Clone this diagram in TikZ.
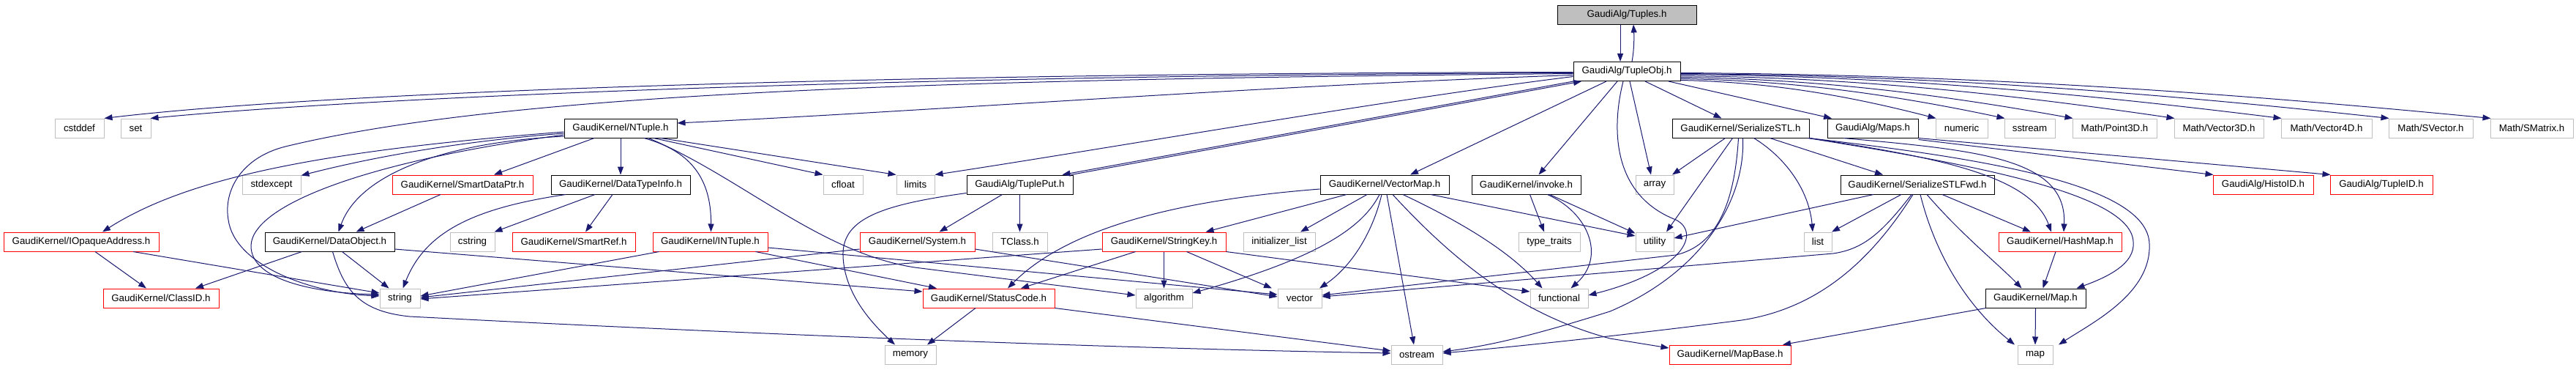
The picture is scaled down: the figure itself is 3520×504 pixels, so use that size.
\documentclass[tikz,border=0pt]{standalone}
\usepackage{fontspec}
\setmainfont{Liberation Sans}
\usetikzlibrary{arrows.meta}
\definecolor{edgeblue}{HTML}{191970}
\definecolor{boxgray}{HTML}{BFBFBF}
\definecolor{boxred}{HTML}{FF0000}
\newcommand{\dfont}{\fontsize{13.3pt}{16pt}\selectfont}
\begin{document}
\begin{tikzpicture}[x=1pt,y=-1pt,
  nbox/.style={rectangle, draw=black, line width=1pt, minimum height=26pt, inner sep=0pt, font=\dfont, text=black},
  bk/.style={nbox, minimum width=#1},
  rd/.style={nbox, draw=boxred, minimum width=#1},
  gy/.style={nbox, draw=boxgray, minimum width=#1},
  rt/.style={nbox, fill=boxgray, minimum width=#1},
  dep/.style={draw=edgeblue, line width=1pt, -{Triangle[length=11pt,width=8pt]}}]
\fill[white] (0,0) rectangle (3520,504);
\useasboundingbox (0,0) rectangle (3520,504);
% nodes
\node[rt=190pt] (tuples) at (2223,20) {GaudiAlg/Tuples.h};
\node[bk=146pt] (tupleobj) at (2223,97.5) {GaudiAlg/TupleObj.h};
% row 1
\node[gy=67pt] (cstddef) at (108.5,175) {cstddef};
\node[gy=41pt] (set) at (185.5,175) {set};
\node[bk=154pt] (ntuple) at (848,175) {GaudiKernel/NTuple.h};
\node[bk=187pt] (serstl) at (2378.5,175) {GaudiKernel/SerializeSTL.h};
\node[bk=124pt] (maps) at (2559,175) {GaudiAlg/Maps.h};
\node[gy=71pt] (numeric) at (2680.5,175) {numeric};
\node[gy=69pt] (sstream) at (2773.5,175) {sstream};
\node[gy=115pt] (point3d) at (2889.5,175) {Math/Point3D.h};
\node[gy=122pt] (vector3d) at (3032,175) {Math/Vector3D.h};
\node[gy=124pt] (vector4d) at (3179,175) {Math/Vector4D.h};
\node[gy=115pt] (svector) at (3321.5,175) {Math/SVector.h};
\node[gy=113pt] (smatrix) at (3459.5,175) {Math/SMatrix.h};
% row 2
\node[gy=80pt] (stdexcept) at (371,252) {stdexcept};
\node[rd=192pt] (smartdataptr) at (632,252) {GaudiKernel/SmartDataPtr.h};
\node[bk=190pt] (datatypeinfo) at (848,252) {GaudiKernel/DataTypeInfo.h};
\node[gy=54pt] (cfloat) at (1152,252) {cfloat};
\node[gy=52pt] (limits) at (1251,252) {limits};
\node[bk=145pt] (tupleput) at (1393.5,252) {GaudiAlg/TuplePut.h};
\node[bk=176pt] (vectormap) at (1892,252) {GaudiKernel/VectorMap.h};
\node[bk=149pt] (invoke) at (2085.5,252) {GaudiKernel/invoke.h};
\node[gy=52pt] (array) at (2261,252) {array};
\node[bk=210pt] (serstlfwd) at (2620,252) {GaudiKernel/SerializeSTLFwd.h};
\node[rd=137pt] (histoid) at (3092.5,252) {GaudiAlg/HistoID.h};
\node[rd=140pt] (tupleid) at (3254,252) {GaudiAlg/TupleID.h};
% row 3
\node[rd=212pt] (iopaque) at (111,330) {GaudiKernel/IOpaqueAddress.h};
\node[bk=177pt] (dataobject) at (450.5,330) {GaudiKernel/DataObject.h};
\node[gy=61pt] (cstring) at (645.5,330) {cstring};
\node[rd=168pt] (smartref) at (784,330) {GaudiKernel/SmartRef.h};
\node[rd=157pt] (intuple) at (970.5,330) {GaudiKernel/INTuple.h};
\node[rd=157pt] (system) at (1253.5,330) {GaudiKernel/System.h};
\node[gy=75pt] (tclass) at (1393.5,330) {TClass.h};
\node[rd=169pt] (stringkey) at (1590.5,330) {GaudiKernel/StringKey.h};
\node[gy=98pt] (initlist) at (1748,330) {initializer\_list};
\node[gy=84pt] (typetraits) at (2117,330) {type\_traits};
\node[gy=52pt] (utility) at (2261,330) {utility};
\node[gy=38pt] (list) at (2484,330) {list};
\node[rd=168pt] (hashmap) at (2815,330) {GaudiKernel/HashMap.h};
% row 4
\node[rd=158pt] (classid) at (220,407) {GaudiKernel/ClassID.h};
\node[gy=55pt] (string) at (546.5,407) {string};
\node[rd=180pt] (statuscode) at (1351,407) {GaudiKernel/StatusCode.h};
\node[gy=77pt] (algorithm) at (1590.5,407) {algorithm};
\node[gy=60pt] (vector) at (1776,407) {vector};
\node[gy=79pt] (functional) at (2130.5,407) {functional};
\node[bk=137pt] (mapH) at (2781.5,407) {GaudiKernel/Map.h};
% row 5
\node[gy=70pt] (memory) at (1244,484) {memory};
\node[gy=70pt] (ostream) at (1936,484) {ostream};
\node[rd=166pt] (mapbase) at (2364,484) {GaudiKernel/MapBase.h};
\node[gy=48pt] (map) at (2781,484) {map};
% ---------- edges ----------
\draw[dep] ([xshift=-9pt]tuples.south) -- ([xshift=-9pt]tupleobj.north);
\draw[dep] ([xshift=7pt]tupleobj.north) .. controls (2233,68) and (2233,50) .. ([xshift=9pt]tuples.south);
% TupleObj left
\draw[dep] ([yshift=-1pt]tupleobj.west) .. controls (1200,100) and (450,125) .. (cstddef.north east);
\draw[dep] ([yshift=-2pt]tupleobj.west) .. controls (1200,103) and (500,133) .. ([xshift=-1pt]set.north east);
\draw[dep] ([yshift=-3pt]tupleobj.west) .. controls (1300,108) and (700,125) .. (390,200) .. controls (330,215) and (305,260) .. (312,300) .. controls (320,360) and (420,400) .. ([yshift=3pt]string.west);
\draw[dep] ([yshift=-5pt]tupleobj.west) .. controls (1700,118) and (1300,150) .. ([yshift=7pt]ntuple.east);
\draw[dep] ([yshift=-7pt]tupleobj.west) .. controls (1900,135) and (1500,205) .. (limits.north east);
\draw[dep] ([xshift=-73pt]tupleobj.south) -- ([xshift=58pt]tupleput.north);
\draw[dep] ([xshift=70pt]tupleput.north) -- ([xshift=-62pt]tupleobj.south);
% TupleObj down
\draw[dep] ([xshift=-28pt]tupleobj.south) -- ([xshift=35pt]vectormap.north);
\draw[dep] ([xshift=-13pt]tupleobj.south) -- ([xshift=17pt]invoke.north);
\draw[dep] ([xshift=-5pt]tupleobj.south) .. controls (2203,170) and (2200,265) .. (2290,300) .. controls (2325,318) and (2300,370) .. ([yshift=4pt]functional.east);
\draw[dep] ([xshift=4pt]tupleobj.south) -- ([xshift=-5pt]array.north);
\draw[dep] ([xshift=25pt]tupleobj.south) -- ([xshift=-26pt]serstl.north);
\draw[dep] ([xshift=57pt]tupleobj.south) -- ([xshift=-56pt]maps.north);
% TupleObj right
\draw[dep] ([yshift=-12pt]tupleobj.east) .. controls (2418,112) and (2523,130) .. ([xshift=1pt]numeric.north west);
\draw[dep] ([yshift=-10pt]tupleobj.east) .. controls (2451,110) and (2585,129) .. ([xshift=1pt]sstream.north west);
\draw[dep] ([yshift=-8pt]tupleobj.east) .. controls (2484,108) and (2645,128) .. ([xshift=1pt]point3d.north west);
\draw[dep] ([yshift=-6pt]tupleobj.east) .. controls (2533,106) and (2735,127) .. ([xshift=1pt]vector3d.north west);
\draw[dep] ([yshift=-4pt]tupleobj.east) .. controls (2584,104) and (2830,126) .. ([xshift=1pt]vector4d.north west);
\draw[dep] ([yshift=-3pt]tupleobj.east) .. controls (2635,103) and (2926,125) .. ([xshift=1pt]svector.north west);
\draw[dep] ([yshift=-2pt]tupleobj.east) .. controls (2684,102) and (3016,124) .. ([xshift=1pt]smatrix.north west);
% NTuple
\draw[dep] ([yshift=-7pt]ntuple.west) .. controls (600,195) and (480,222) .. ([yshift=-1pt]stdexcept.north east);
\draw[dep] ([yshift=-5pt]ntuple.west) .. controls (450,205) and (260,240) .. ([xshift=29pt]iopaque.north);
\draw[dep] ([yshift=-9pt]ntuple.west) .. controls (500,220) and (345,280) .. (343,335) .. controls (342,385) and (440,400) .. ([yshift=5pt]string.west);
\draw[dep] ([yshift=-11pt]ntuple.west) .. controls (600,195) and (490,240) .. ([xshift=12pt]dataobject.north);
\draw[dep] ([xshift=-36pt]ntuple.south) -- ([xshift=43pt]smartdataptr.north);
\draw[dep] (ntuple.south) -- (datatypeinfo.north);
\draw[dep] ([xshift=45pt]ntuple.south) -- (cfloat.north west);
\draw[dep] ([xshift=55pt]ntuple.south) -- (limits.north west);
\draw[dep] ([xshift=32pt]ntuple.south) .. controls (940,205) and (972,240) .. ([xshift=1pt]intuple.north);
\draw[dep] ([xshift=38pt]ntuple.south) .. controls (1010,240) and (1120,345) .. (1250,365) -- ([yshift=4pt]algorithm.west);
% IOpaqueAddress, DataObject, SmartDataPtr, DataTypeInfo
\draw[dep] ([xshift=19pt]iopaque.south) -- ([xshift=-20pt]classid.north);
\draw[dep] ([xshift=71pt]iopaque.south) -- ([yshift=7pt]string.west);
\draw[dep] ([xshift=-38pt]dataobject.south) -- ([xshift=47pt]classid.north);
\draw[dep] ([xshift=17pt]dataobject.south) -- ([xshift=-15pt]string.north);
\draw[dep] ([xshift=4pt]dataobject.south) .. controls (470,395) and (490,425) .. (560,432) .. controls (1000,455) and (1500,475) .. ([yshift=2pt]ostream.west);
\draw[dep] ([yshift=-10pt]dataobject.east) -- ([yshift=9pt]statuscode.west);
\draw[dep] ([xshift=-30pt]smartdataptr.south) -- ([xshift=36pt]dataobject.north);
\draw[dep] ([xshift=-75pt]datatypeinfo.south) .. controls (640,285) and (580,320) .. ([xshift=4pt]string.north);
\draw[dep] ([xshift=-35pt]datatypeinfo.south) -- ([xshift=30pt]cstring.north);
\draw[dep] ([xshift=-11pt]datatypeinfo.south) -- ([xshift=16pt]smartref.north);
% INTuple, System, TuplePut
\draw[dep] ([xshift=-70pt]intuple.south) -- ([yshift=3pt]string.east);
\draw[dep] ([xshift=62pt]intuple.south) -- ([xshift=-71pt]statuscode.north);
\draw[dep] ([yshift=-8pt]intuple.east) -- ([yshift=5pt]vector.west);
\draw[dep] ([yshift=-10pt]system.west) -- ([yshift=1pt]string.east);
\draw[dep] ([yshift=-10pt]system.east) -- ([yshift=2pt]vector.west);
\draw[dep] ([xshift=-24pt]tupleput.south) -- ([xshift=30pt]system.north);
\draw[dep] (tupleput.south) -- (tclass.north);
\draw[dep] ([yshift=2pt]tupleput.south west) .. controls (1200,280) and (1150,300) .. (1152,350) .. controls (1154,400) and (1190,440) .. ([xshift=-21pt]memory.north);
\draw[dep] ([xshift=-18pt]statuscode.south) -- ([xshift=23pt]memory.north);
\draw[dep] (statuscode.south east) -- ([yshift=5pt]ostream.west);
% StringKey
\draw[dep] ([yshift=-10pt]stringkey.west) -- ([yshift=-1pt]string.east);
\draw[dep] ([xshift=-39pt]stringkey.south) -- ([xshift=44pt]statuscode.north);
\draw[dep] (stringkey.south) -- (algorithm.north);
\draw[dep] ([xshift=31pt]stringkey.south) -- ([xshift=-38pt]vector.north);
\draw[dep] (stringkey.south east) -- ([yshift=9pt]functional.west);
% VectorMap
\draw[dep] ([yshift=-6pt]vectormap.west) .. controls (1650,270) and (1470,300) .. ([xshift=26pt]statuscode.north);
\draw[dep] ([xshift=-52pt]vectormap.south) -- ([xshift=57pt]stringkey.north);
\draw[dep] ([xshift=-7pt]vectormap.south) .. controls (1860,315) and (1790,355) .. ([yshift=7pt]algorithm.east);
\draw[dep] ([xshift=-24pt]vectormap.south) -- ([xshift=29pt]initlist.north);
\draw[dep] ([xshift=-4pt]vectormap.south) .. controls (1875,320) and (1845,365) .. ([xshift=27pt]vector.north);
\draw[dep] ([xshift=3pt]vectormap.south) -- ([xshift=-4pt]ostream.north);
\draw[dep] ([xshift=25pt]vectormap.south) .. controls (1990,300) and (2060,340) .. ([xshift=-23pt]functional.north);
\draw[dep] ([xshift=11pt]vectormap.south) .. controls (1990,360) and (2080,430) .. (2200,462) -- ([yshift=9pt]mapbase.west);
\draw[dep] ([xshift=63pt]vectormap.south) -- ([yshift=8pt]utility.west);
% invoke
\draw[dep] ([xshift=5pt]invoke.south) -- ([xshift=-7pt]typetraits.north);
\draw[dep] ([xshift=29pt]invoke.south) .. controls (2170,290) and (2195,350) .. ([xshift=16pt]functional.north);
\draw[dep] ([xshift=32pt]invoke.south) -- ([yshift=-2pt]utility.north west);
% SerializeSTL
\draw[dep] ([xshift=-21pt]serstl.south) -- ([xshift=24pt]array.north);
\draw[dep] ([xshift=-11pt]serstl.south) -- ([xshift=16pt]utility.north);
\draw[dep] ([xshift=18pt]serstl.south) .. controls (2440,215) and (2472,260) .. ([xshift=-7pt]list.north);
\draw[dep] ([xshift=40pt]serstl.south) -- ([xshift=-47pt]serstlfwd.north);
\draw[dep] ([xshift=-3pt]serstl.south) .. controls (2370,280) and (2345,335) .. (2290,348) -- ([yshift=4pt]vector.east);
\draw[dep] ([xshift=3pt]serstl.south) .. controls (2385,270) and (2330,370) .. (2200,425) .. controls (2120,450) and (2050,470) .. ([yshift=4pt]ostream.east);
\draw[dep] (serstl.south east) .. controls (2650,215) and (2775,240) .. ([xshift=-12pt]hashmap.north);
\draw[dep] ([xshift=-1pt]serstl.south east) .. controls (2700,215) and (2935,250) .. (2937,333) .. controls (2940,400) and (2860,440) .. ([xshift=32pt]map.north);
\draw[dep] ([xshift=-2pt]serstl.south east) .. controls (2700,225) and (2912,265) .. (2915,330) .. controls (2918,360) and (2880,378) .. ([xshift=56pt]mapH.north);
% Maps
\draw[dep] ([xshift=-40pt]maps.south) .. controls (2700,205) and (2825,215) .. ([xshift=5pt]hashmap.north);
\draw[dep] ([yshift=-2pt]maps.south east) -- ([xshift=1pt]histoid.north west);
\draw[dep] (maps.south east) -- ([xshift=1pt]tupleid.north west);
% SerializeSTLFwd
\draw[dep] ([xshift=-60pt]serstlfwd.south) -- ([yshift=5pt]utility.east);
\draw[dep] ([xshift=-22pt]serstlfwd.south) -- ([xshift=19pt]list.north);
\draw[dep] ([xshift=-8pt]serstlfwd.south) .. controls (2570,320) and (2545,340) .. (2505,346) -- ([yshift=2pt]vector.east);
\draw[dep] ([xshift=-6pt]serstlfwd.south) .. controls (2560,350) and (2490,420) .. (2380,437) .. controls (2200,460) and (2050,475) .. ([yshift=2pt]ostream.east);
\draw[dep] ([xshift=4pt]serstlfwd.south) .. controls (2645,350) and (2690,420) .. ([xshift=-28pt]map.north);
\draw[dep] ([xshift=13pt]serstlfwd.south) .. controls (2680,320) and (2730,360) .. ([xshift=-19pt]mapH.north);
\draw[dep] ([xshift=34pt]serstlfwd.south) -- ([xshift=-40pt]hashmap.north);
% HashMap, Map
\draw[dep] ([xshift=-6pt]hashmap.south) -- ([xshift=10pt]mapH.north);
\draw[dep] (mapH.south) -- (map.north);
\draw[dep] ([xshift=-68pt]mapH.south) -- ([xshift=72pt]mapbase.north);
\end{tikzpicture}
\end{document}
